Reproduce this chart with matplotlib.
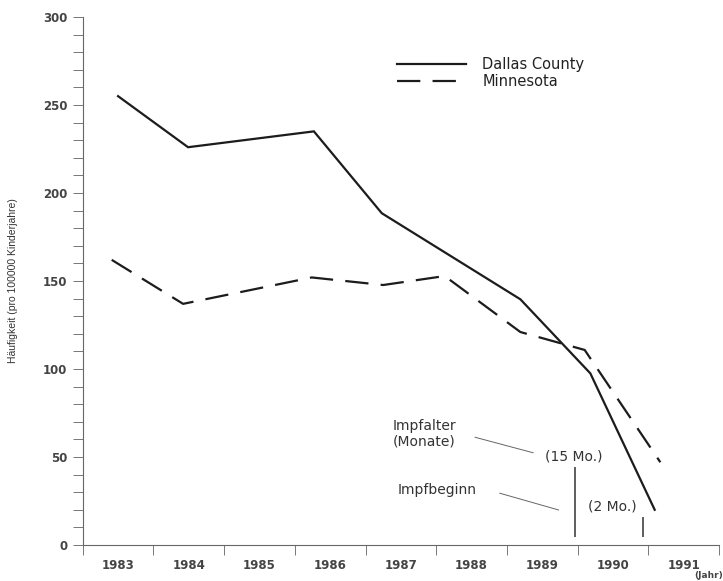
import matplotlib.pyplot as plt
import numpy as np

# data (x = fractional year, y = cases per 100000 child-years)
dallas_x = [1983.50, 1984.49, 1986.27, 1987.23, 1989.19, 1990.18, 1991.09]
dallas_y = [255, 226, 235, 188.5, 139.6, 97.5, 20]
minn_x = [1983.41, 1984.42, 1986.24, 1987.25, 1988.12, 1989.19, 1990.10, 1991.17]
minn_y = [162, 137, 152, 147.7, 152.8, 121, 110.8, 47]
years = [1983, 1984, 1985, 1986, 1987, 1988, 1989, 1990, 1991]
vacc_start = [1989.96, 1990.92]   # "15 Mo." and "2 Mo." markers


def plot_it():
    fig = plt.figure(figsize=(7.23, 5.81), dpi=100)
    ax = fig.add_axes([0.1144, 0.062, 0.8801, 0.9088])

    ink = '#1c1c1c'
    grey = '#444444'

    ax.plot(dallas_x, dallas_y, color=ink, lw=1.6, solid_joinstyle='miter')
    ax.plot(minn_x, minn_y, color=ink, lw=1.6, dashes=(10.5, 5.5))

    ax.set_xlim(1983, 1992)
    ax.set_ylim(0, 300)

    for s in ['top', 'right']:
        ax.spines[s].set_visible(False)
    for s in ['left', 'bottom']:
        ax.spines[s].set_color('#666666')
        ax.spines[s].set_linewidth(0.8)

    # y axis
    ax.set_yticks(np.arange(0, 301, 50))
    ax.set_yticks(np.arange(0, 301, 10), minor=True)
    ax.tick_params(axis='y', which='both', direction='out', length=7,
                   width=0.7, color='#777777')
    ax.tick_params(axis='y', which='major', labelsize=8.5, labelcolor=grey, pad=4)
    for t in ax.get_yticklabels():
        t.set_fontweight('bold')
        t.set_family('DejaVu Sans')

    # x axis: ticks at year boundaries, labels centred in between
    ax.set_xticks(np.arange(1983, 1993))
    ax.set_xticklabels([])
    ax.set_xticks([y + 0.5 for y in years], minor=True)
    ax.set_xticklabels([str(y) for y in years], minor=True)
    ax.tick_params(axis='x', which='major', direction='out', length=7,
                   width=0.7, color='#777777')
    ax.tick_params(axis='x', which='minor', length=0, labelsize=8.5,
                   labelcolor=grey, pad=10)
    for t in ax.get_xticklabels(minor=True):
        t.set_fontweight('bold')
        t.set_family('DejaVu Sans')
    ax.text(1991.85, -0.05, '(Jahr)', transform=ax.get_xaxis_transform(),
            fontsize=6.5, color=grey, ha='center', va='top', fontweight='bold')

    ax.set_ylabel('Häufigkeit (pro 100000 Kinderjahre)', fontsize=7.5,
                  family='Liberation Sans', color='#333333')
    ax.yaxis.set_label_coords(-0.101, 0.5)

    # legend drawn by hand, like the original
    ax.plot([1987.45, 1988.42], [273, 273], color=ink, lw=1.6,
            transform=ax.transData)
    ax.plot([1987.45, 1988.42], [263.5, 263.5], color=ink, lw=1.6,
            dashes=(10.5, 5.5))
    ax.text(1988.65, 273, 'Dallas County', fontsize=10.5, color='#222222',
            va='center', ha='left')
    ax.text(1988.65, 263.5, 'Minnesota', fontsize=10.5, color='#222222',
            va='center', ha='left')

    # vaccination annotations
    ax.text(1987.39, 63.4, 'Impfalter\n(Monate)', fontsize=10, color='#333333',
            ha='left', va='center', linespacing=1.15)
    ax.plot([1988.55, 1989.37], [61.2, 52.4], color='#666666', lw=0.7)
    ax.text(1989.95, 50, '(15 Mo.)', fontsize=10, color='#333333',
            ha='center', va='center')
    ax.text(1987.45, 31.25, 'Impfbeginn', fontsize=10, color='#333333',
            ha='left', va='center')
    ax.plot([1988.90, 1989.73], [29.4, 19.9], color='#666666', lw=0.7)
    ax.text(1990.49, 21.6, '(2 Mo.)', fontsize=10, color='#333333',
            ha='center', va='center')
    ax.vlines(vacc_start, [4.5, 4.5], [44.3, 15.9], color='#333333', lw=1.1)

    fig.savefig('out.png', dpi=100)


plot_it()
